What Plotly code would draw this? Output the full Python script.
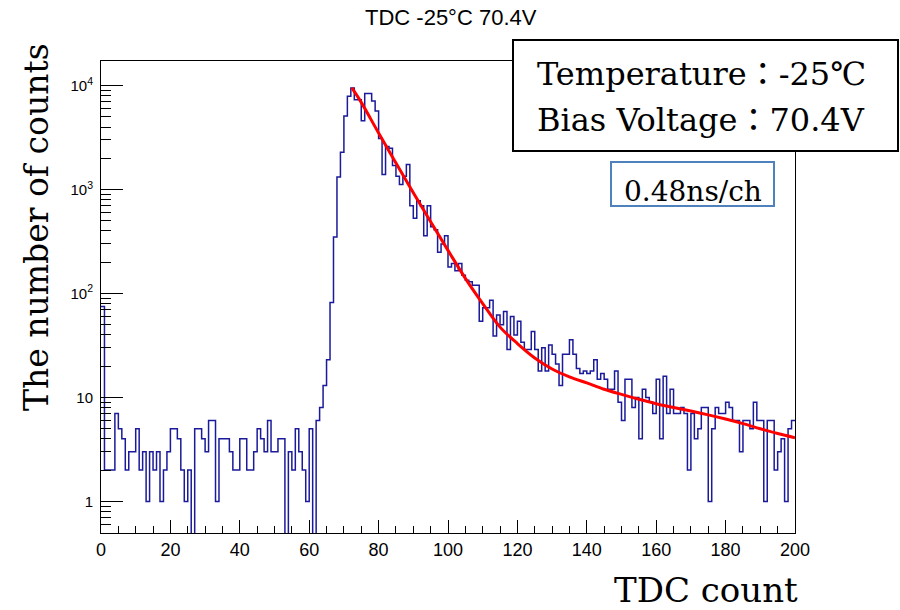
import plotly.graph_objects as go

# ---------------- data ----------------
bin_edges_low = list(range(0, 200))          # TDC channel (bin lower edge), width 1
counts = [
    75, 2, 2, 2, 7, 5, 4, 2, 3, 3,            # 0-9
    5, 2, 3, 1, 3, 2, 3, 1, 2, 3,             # 10-19
    5, 5, 4, 2, 1, 2, 0, 5, 5, 4,             # 20-29
    3, 6, 6, 1, 4, 4, 4, 3, 2, 2,             # 30-39
    4, 4, 2, 2, 3, 5, 4, 3, 6, 3,             # 40-49
    3, 4, 4, 0, 3, 2, 5, 3, 2, 1,             # 50-59
    5, 0, 6, 8, 13, 23, 82, 350, 1320, 2290,  # 60-69
    5100, 7900, 9500, 7300, 7300, 4600, 8400, 8400, 7100, 5700,  # 70-79
    3100, 1400, 2600, 2500, 1700, 1340, 1120, 1340, 1740, 700,   # 80-89
    530, 780, 700, 360, 700, 440, 410, 250, 300, 360,            # 90-99
    180, 194, 166, 194, 150, 134, 130, 120, 120, 54,             # 100-109
    73, 73, 86, 39, 62, 50, 67, 29, 60, 40,                      # 110-119
    54, 34, 29, 29, 43, 29, 18, 30, 18, 32,                      # 120-129
    26, 21, 13, 26, 26, 36, 26, 19, 17, 18,                      # 130-139
    17, 18, 23, 15, 17, 15, 12, 12, 18, 9,                       # 140-149
    6, 15, 15, 8, 10, 4, 12, 10, 9, 7,                           # 150-159
    15, 4, 16, 7, 12, 7, 7, 8, 7, 2,                             # 160-169
    7, 4, 5, 8, 8, 1, 5, 8, 7, 7,                                # 170-179
    9, 8, 6, 6, 3, 6, 6, 5, 9, 6,                                # 180-189
    6, 1, 6, 6, 2, 3, 4, 1, 5, 6,                                # 190-199
]

# fitted curve
fit_x = [72.3, 75, 80, 85, 90, 95, 100, 105, 110, 115, 120, 125, 130,
         135, 140, 145, 150, 155, 160, 165, 170, 175, 180, 185, 190, 195, 200]
fit_y = [9500, 6900, 3500, 1800, 930, 490, 260, 140, 80, 47.5, 33, 24, 18.8,
         15.8, 13.8, 12.0, 10.7, 9.6, 8.7, 8.0, 7.4, 6.8, 6.2, 5.6, 5.0, 4.5, 4.1]

x_ticks = [0, 20, 40, 60, 80, 100, 120, 140, 160, 180, 200]
y_ticks = [1, 10, 100, 1000, 10000]
y_ticktext = ["1", "10", "10<sup>2</sup>", "10<sup>3</sup>", "10<sup>4</sup>"]

title_text = "TDC -25°C 70.4V"
x_title = "TDC count"
y_title = "The number of counts"
info_lines = ["Temperature：-25℃", "Bias Voltage：70.4V"]
scale_text = "0.48ns/ch"

# ---------------- geometry helpers ----------------
W, H = 900, 610
ML, MR, MT, MB = 101, 105, 61, 77
PW, PH = W - ML - MR, H - MT - MB


def px(x):
    return (x - ML) / PW


def py(y):
    return (H - MB - y) / PH


# histogram as steps (zero bins drawn below the axis floor)
FLOOR = 0.01
step_x = bin_edges_low + [200]
step_y = [c if c > 0 else FLOOR for c in counts]
step_y = step_y + [step_y[-1]]

fig = go.Figure()
fig.add_trace(go.Scatter(
    x=step_x, y=step_y, mode="lines", line_shape="hv",
    line=dict(color="#1a1a9a", width=1.5), hoverinfo="skip", showlegend=False))
fig.add_trace(go.Scatter(
    x=fit_x, y=fit_y, mode="lines", line_shape="spline",
    line=dict(color="#ff0000", width=3), hoverinfo="skip", showlegend=False))

# minor tick positions
y_minor = []
for dec in [0.1, 1, 10, 100, 1000]:
    for m in range(2, 10):
        v = m * dec
        if 0.5 < v < 17000:
            y_minor.append(v)

fig.update_layout(
    width=W, height=H,
    margin=dict(l=ML, r=MR, t=MT, b=MB, pad=0),
    paper_bgcolor="white", plot_bgcolor="white",
    showlegend=False,
    xaxis=dict(
        range=[0, 200], showgrid=False, zeroline=False,
        showline=True, mirror=True, linecolor="#000000", linewidth=1,
        ticks="inside", ticklen=13, tickwidth=1, tickcolor="#000000",
        tickmode="array", tickvals=x_ticks,
        tickfont=dict(family="Liberation Sans, Arial", size=18, color="#000000"),
        minor=dict(ticks="inside", ticklen=7, tickwidth=1, tickcolor="#000000",
                   dtick=5, tick0=0, showgrid=False),
    ),
    yaxis=dict(
        type="log", range=[-0.304, 4.237], showgrid=False, zeroline=False,
        showline=True, mirror=True, linecolor="#000000", linewidth=1,
        ticks="inside", ticklen=22, tickwidth=1, tickcolor="#000000",
        tickmode="array", tickvals=y_ticks, ticktext=y_ticktext,
        ticklabelstandoff=4,
        tickfont=dict(family="Liberation Sans, Arial", size=15, color="#000000"),
        minor=dict(ticks="inside", ticklen=10, tickwidth=1, tickcolor="#000000",
                   tickmode="array", tickvals=y_minor, showgrid=False),
    ),
)

shapes = [
    dict(type="rect", xref="paper", yref="paper",
         x0=px(513), x1=px(898), y0=py(151), y1=py(40),
         line=dict(color="#000000", width=2), fillcolor="white", layer="above"),
    dict(type="rect", xref="paper", yref="paper",
         x0=px(611), x1=px(774), y0=py(206), y1=py(162),
         line=dict(color="#4f81bd", width=2), fillcolor="white", layer="above"),
]
fig.update_layout(shapes=shapes)

serif = "DejaVu Serif, Noto Sans CJK JP, serif"
annotations = [
    dict(text=title_text, x=px(451), y=py(17), xanchor="center", yanchor="middle",
         font=dict(family="Liberation Sans, Arial", size=22, color="#000000")),
    dict(text=y_title, x=px(37), y=py(227), xanchor="center", yanchor="middle",
         textangle=-90, font=dict(family=serif, size=33, color="#000000")),
    dict(text=x_title, x=px(706), y=py(590), xanchor="center", yanchor="middle",
         font=dict(family=serif, size=34, color="#000000")),
    dict(text=info_lines[0], x=px(535), y=py(74), xanchor="left", yanchor="middle",
         font=dict(family=serif, size=32, color="#000000")),
    dict(text=info_lines[1], x=px(535), y=py(120), xanchor="left", yanchor="middle",
         font=dict(family=serif, size=32, color="#000000")),
    dict(text=scale_text, x=px(693), y=py(191), xanchor="center", yanchor="middle",
         font=dict(family=serif, size=28, color="#000000")),
]
for a in annotations:
    a.update(xref="paper", yref="paper", showarrow=False)
fig.update_layout(annotations=annotations)

fig.write_html("out.html")
